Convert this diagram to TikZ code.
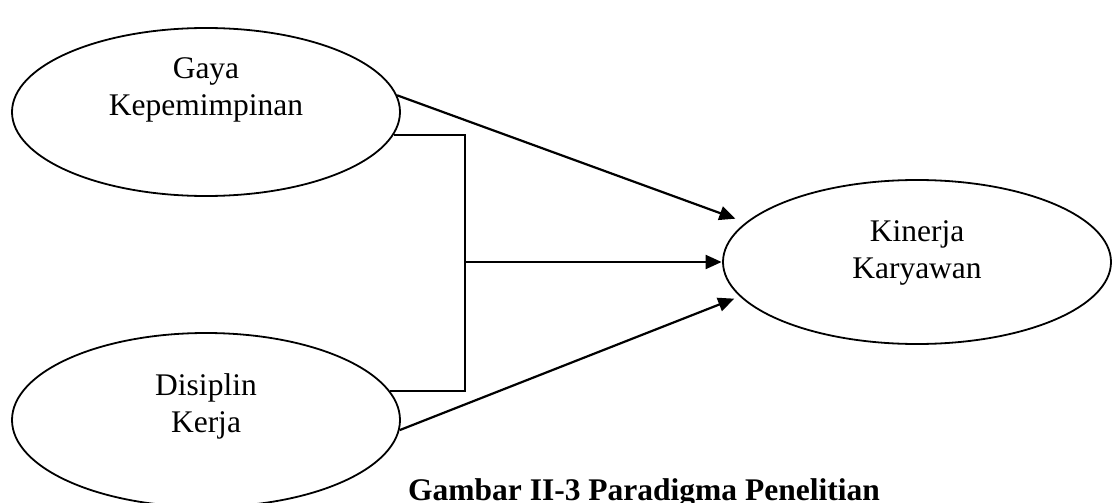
\documentclass[tikz,border=0pt]{standalone}
\usepackage{fontspec}
\setmainfont{Liberation Serif}
\usetikzlibrary{arrows.meta,shapes.geometric}

\tikzset{
  var/.style={draw=black, line width=1.8pt, ellipse, inner sep=0pt,
              minimum width=388pt},
  lbl/.style={anchor=base, inner sep=0pt,
              font=\fontsize{31.5}{37}\selectfont},
  link/.style={draw=black, line width=2.2pt},
  arr/.style={link, -{Triangle[length=16pt,width=14pt]}},
}

\begin{document}
\begin{tikzpicture}[x=1pt,y=-1pt]
  \useasboundingbox (0,0) rectangle (1112,503);

  % variables
  \node[var, minimum height=168pt] (gk) at (206,112) {};
  \node[var, minimum height=174pt] (dk) at (206,420) {};
  \node[var, minimum height=164pt] (kk) at (917,262) {};

  % variable names
  \node[lbl] (gk1) at (206,78)  {Gaya};
  \node[lbl] (gk2) at (206,115) {Kepemimpinan};
  \node[lbl] (dk1) at (206,395) {Disiplin};
  \node[lbl] (dk2) at (206,432) {Kerja};
  \node[lbl] (kk1) at (917,241) {Kinerja};
  \node[lbl] (kk2) at (917,278) {Karyawan};

  % joint path of both variables
  \coordinate (j) at (465,262);
  \draw[link] (gk.-7) -| (j) |- (dk.9);
  \draw[arr, shorten >=0.5pt] (j) -- (kk.west);

  % partial effects
  \draw[arr, shorten >=11pt] (gk.5) -- (kk.167);
  \draw[arr, shorten >=6pt] (dk.-3) -- (kk.191);

  % caption
  \node[lbl, anchor=base west, font=\fontsize{31.5}{37}\selectfont\bfseries]
    (cap) at (408,500) {Gambar II-3 Paradigma Penelitian};
\end{tikzpicture}
\end{document}
